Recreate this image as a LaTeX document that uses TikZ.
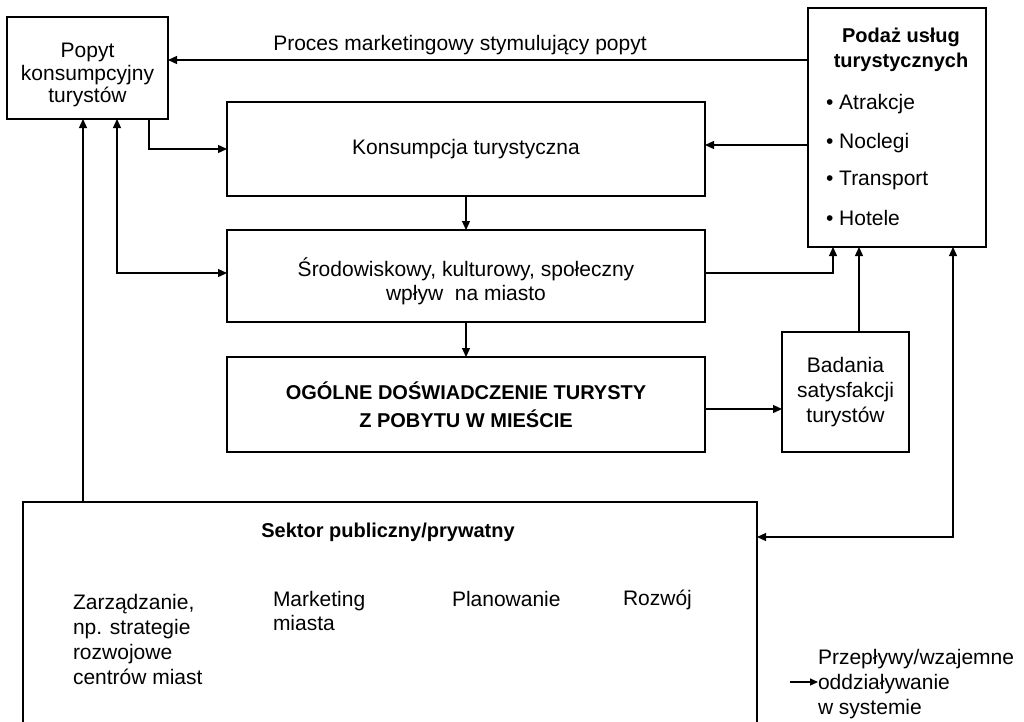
\documentclass[tikz,border=0pt]{standalone}
\usepackage{fontspec}
\setmainfont{Liberation Sans}
\usetikzlibrary{arrows.meta}
\begin{document}
\begin{tikzpicture}[x=1pt,y=-1pt,
  every node/.style={font=\fontsize{21}{24}\selectfont, inner sep=0pt, outer sep=0pt},
  box/.style={draw, line width=1.4pt, align=center},
  boldtxt/.style={font=\fontsize{20}{25}\selectfont\bfseries, align=center},
  flow/.style={line width=1.3pt, -{Triangle[length=9pt,width=8pt]}},
  twoway/.style={line width=1.3pt, {Triangle[length=9pt,width=8pt]}-{Triangle[length=9pt,width=8pt]}}]
\useasboundingbox (0,0) rectangle (1024,721);
\clip (0,0) rectangle (1024,721);

% boxes
\node[box, minimum width=161pt, minimum height=102pt] (popyt) at (87.5,68) {};
\node[align=center, font=\fontsize{21}{22.5}\selectfont] (popytT) at (87.5,75) {Popyt\\konsumpcyjny\\turystów};
\node[box, minimum width=178pt, minimum height=239pt] (podaz) at (897,127.5) {};
\node[boldtxt] (podazT) at (901,50) {Podaż usług\\turystycznych};
\node[anchor=west] (b1) at (826,104) {• Atrakcje};
\node[anchor=west] (b2) at (826,143) {• Noclegi};
\node[anchor=west] (b3) at (826,180) {• Transport};
\node[anchor=west] (b4) at (826,218) {• Hotele};

\node[box, minimum width=478pt, minimum height=94pt] (kons) at (466,149) {Konsumpcja turystyczna};
\node[box, minimum width=478pt, minimum height=92pt] (srod) at (466,276) {};
\node[align=center] (srodT) at (466,281) {Środowiskowy, kulturowy, społeczny\\wpływ\ \ na miasto};
\node[box, minimum width=478pt, minimum height=95pt, font=\fontsize{20}{28}\selectfont\bfseries] (ogolne) at (466,404.5) {OGÓLNE DOŚWIADCZENIE TURYSTY\\Z POBYTU W MIEŚCIE};
\node[box, minimum width=127pt, minimum height=120pt, font=\fontsize{21}{25}\selectfont] (badania) at (845.5,392) {Badania\\satysfakcji\\turystów};

\node[box, minimum width=734pt, minimum height=260pt, anchor=north west] (sektor) at (23,502) {};
\node[boldtxt] (sektorT) at (388,532) {Sektor publiczny/prywatny};
\node[anchor=west, align=left, font=\fontsize{21}{25}\selectfont] (zarz) at (73,639) {Zarządzanie,\\np. strategie\\rozwojowe\\centrów miast};
\node[anchor=west, align=left] (mark) at (273,611) {Marketing\\miasta};
\node[anchor=west] (plan) at (452,599) {Planowanie};
\node[anchor=west] (rozw) at (623,600) {Rozwój};

% connectors
\node (proces) at (460,45) {Proces marketingowy stymulujący popyt};
\draw[flow] (podaz.west |- 0,60) -- (popyt.east |- 0,60);
\draw[flow] (popyt.south -| 149,0) |- (kons.west);
\draw[flow] (podaz.west |- 0,145) -- (kons.east |- 0,145);
\draw[flow] (kons.south) -- (srod.north);
\draw[twoway] (popyt.south -| 117,0) |- (srod.west |- 0,273);
\draw[flow] (sektor.north -| 83,0) -- (popyt.south -| 83,0);
\draw[flow] (srod.east |- 0,273) -| (podaz.south -| 833,0);
\draw[flow] (srod.south) -- (ogolne.north);
\draw[flow] (ogolne.east |- 0,409) -- (badania.west |- 0,409);
\draw[flow] (badania.north -| 859,0) -- (podaz.south -| 859,0);
\draw[twoway] (sektor.east |- 0,537) -| (podaz.south -| 953,0);

% legend
\node[anchor=west, align=left, font=\fontsize{21}{25}\selectfont] (legend) at (818,684) {Przepływy/wzajemne\\oddziaływanie\\w systemie};
\coordinate (legA) at (790,682);
\draw[line width=1.3pt, -{Triangle[length=8pt,width=7pt]}] (legA) -- (legend.west |- legA);
\end{tikzpicture}
\end{document}
